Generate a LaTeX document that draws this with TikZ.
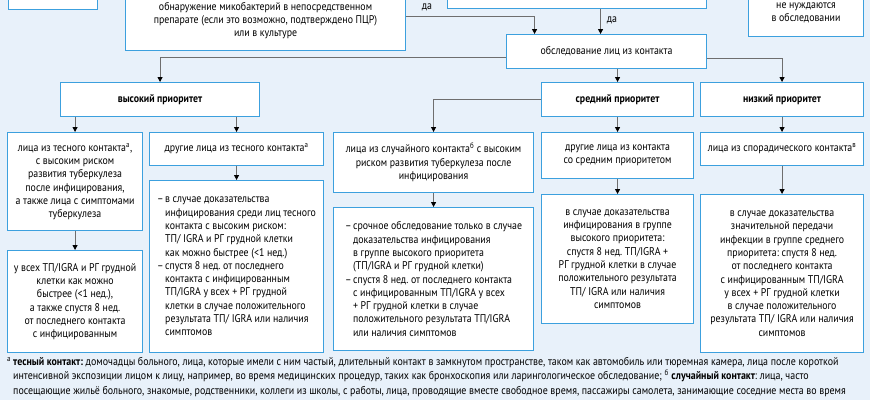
\documentclass[tikz,border=0pt]{standalone}
\usepackage{fontspec}
\setmainfont{PT Sans}[FakeStretch=0.88]
\usetikzlibrary{arrows.meta}
\definecolor{pagebg}{RGB}{232,241,250}
\definecolor{frameblue}{RGB}{60,160,222}
\definecolor{linegray}{RGB}{110,110,110}
\newcommand{\bitem}{\makebox[8pt][l]{–}}
\newcommand{\bindent}{\hspace*{8pt}}
\newcommand{\fnmark}[1]{\makebox[6pt][l]{\textsuperscript{#1}}}
\frenchspacing

\begin{document}
\begin{tikzpicture}[x=1pt,y=-1pt,
  box/.style={draw=frameblue, fill=white, line width=1.1pt, inner sep=2pt, align=center, anchor=north west, font=\fontsize{11.2}{13.3}\selectfont},
  listbox/.style={box, align=left},
  arr/.style={draw=linegray, line width=0.8pt, -{Triangle[length=5pt,width=5pt,color=black]}},
  lbl/.style={font=\fontsize{11.2}{13.3}\selectfont, inner sep=0pt}]

\fill[pagebg] (0,0) rectangle (870,400);
\useasboundingbox (0,0) rectangle (870,400);

\node[box, minimum width=89, minimum height=40] (prev) at (8,-31) {};
\node[box, minimum width=280, minimum height=60] (detect) at (125,-10) {обнаружение микобактерий в непосредственном\\препарате (если это возможно, подтверждено ПЦР)\\или в культуре};
\node[box, minimum width=259, minimum height=40] (smear) at (447,-32) {};
\node[box, minimum width=115, minimum height=47] (none) at (748,-11) {не нуждаются\\в обследовании};

\node[box, minimum width=200, minimum height=34] (contact) at (506,34) {обследование лиц из контакта};

\node[box, minimum width=199, minimum height=34, font=\fontsize{11.2}{13.3}\selectfont\bfseries] (high) at (60,82) {высокий приоритет};
\node[box, minimum width=152, minimum height=34, font=\fontsize{11.2}{13.3}\selectfont\bfseries] (mid) at (541,82) {средний приоритет};
\node[box, minimum width=163, minimum height=34, font=\fontsize{11.2}{13.3}\selectfont\bfseries] (low) at (700,82) {низкий приоритет};

\node[box, minimum width=135, minimum height=98] (closehigh) at (7,132) {лица из тесного контакта\textsuperscript{а},\\с высоким риском\\развития туберкулеза\\после инфицирования,\\а также лица с симптомами\\туберкулеза};
\node[box, minimum width=174, minimum height=33] (closeother) at (149,132) {другие лица из тесного контакта\textsuperscript{а}};
\node[box, minimum width=135, minimum height=102] (closetest) at (7,250) {у всех ТП/IGRA и РГ грудной\\клетки как можно\\быстрее (<1 нед.),\\а также спустя 8 нед.\\от последнего контакта\\с инфицированным};
\node[listbox, minimum width=174, minimum height=172] (closeplan) at (149,180) {\bitem в случае доказательства\\\bindent инфицирования среди лиц тесного\\\bindent контакта с высоким риском:\\\bindent ТП/ IGRA и РГ грудной клетки\\\bindent как можно быстрее (<1 нед.)\\\bitem спустя 8 нед. от последнего\\\bindent контакта с инфицированным\\\bindent ТП/IGRA у всех + РГ грудной\\\bindent клетки в случае положительного\\\bindent результата ТП/ IGRA или наличия\\\bindent симптомов};

\node[box, minimum width=200, minimum height=60] (casual) at (333,132) {лица из случайного контакта\textsuperscript{б} с высоким\\риском развития туберкулеза после\\инфицирования};
\node[listbox, minimum width=200, minimum height=143] (casualplan) at (333,207) {\bitem срочное обследование только в случае\\\bindent доказательства инфицирования\\\bindent в группе высокого приоритета\\\bindent (ТП/IGRA и РГ грудной клетки)\\\bitem спустя 8 нед. от последнего контакта\\\bindent с инфицированным ТП/IGRA у всех\\\bindent + РГ грудной клетки в случае\\\bindent положительного результата ТП/IGRA\\\bindent или наличия симптомов};

\node[box, minimum width=152, minimum height=46] (midother) at (541,132) {другие лица из контакта\\со средним приоритетом};
\node[box, minimum width=152, minimum height=129] (midplan) at (541,194) {в случае доказательства\\инфицирования в группе\\высокого приоритета:\\спустя 8 нед. ТП/IGRA +\\РГ грудной клетки в случае\\положительного результата\\ТП/ IGRA или наличия\\симптомов};

\node[box, minimum width=163, minimum height=33] (sporadic) at (700,132) {лица из спорадического контакта\textsuperscript{в}};
\node[box, minimum width=163, minimum height=158] (lowplan) at (700,194) {в случае доказательства\\значительной передачи\\инфекции в группе среднего\\приоритета: спустя 8 нед.\\от последнего контакта\\с инфицированным ТП/IGRA\\у всех + РГ грудной клетки\\в случае положительного\\результата ТП/ IGRA или наличия\\симптомов};

\node[lbl] (yes1) at (427,7) {да};
\node[lbl] (yes2) at (612,20) {да};

\draw[arr] ([yshift=4pt]detect.east) -| ([xshift=-72pt]contact.north);
\draw[arr] ([xshift=-6pt]contact.north |- smear.south) -- ([xshift=-6pt]contact.north);
\draw[arr] ([yshift=-6pt]contact.west) -| (high.north);
\draw[arr] ([yshift=-7pt]contact.east) -| (low.north);
\draw[arr] (contact.south -| mid.north) -- (mid.north);
\draw[arr] (mid.west) -| (casual.north);
\draw[arr] (high.south -| closehigh.north) -- (closehigh.north);
\draw[arr] (high.south -| closeother.north) -- (closeother.north);
\draw[arr] (mid.south) -- (midother.north);
\draw[arr] (low.south) -- (sporadic.north);
\draw[arr] (closehigh.south) -- (closetest.north);
\draw[arr] (closeother.south) -- (closeplan.north);
\draw[arr] (casual.south) -- (casualplan.north);
\draw[arr] (midother.south) -- (midplan.north);
\draw[arr] (sporadic.south) -- (lowplan.north);

\node[anchor=north west, inner sep=0pt, align=left, font=\fontsize{11.3}{14.5}\selectfont] (notes) at (7,357) {\fnmark{а}\textbf{тесный контакт:} домочадцы больного, лица, которые имели с ним частый, длительный контакт в замкнутом пространстве, таком как автомобиль или тюремная камера, лица после короткой\\\hspace*{6pt}интенсивной экспозиции лицом к лицу, например, во время медицинских процедур, таких как бронхоскопия или ларингологическое обследование; \textsuperscript{б} \textbf{случайный контакт}: лица, часто\\\hspace*{6pt}посещающие жильё больного, знакомые, родственники, коллеги из школы, с работы, лица, проводящие вместе свободное время, пассажиры самолета, занимающие соседние места во время};
\end{tikzpicture}
\end{document}
